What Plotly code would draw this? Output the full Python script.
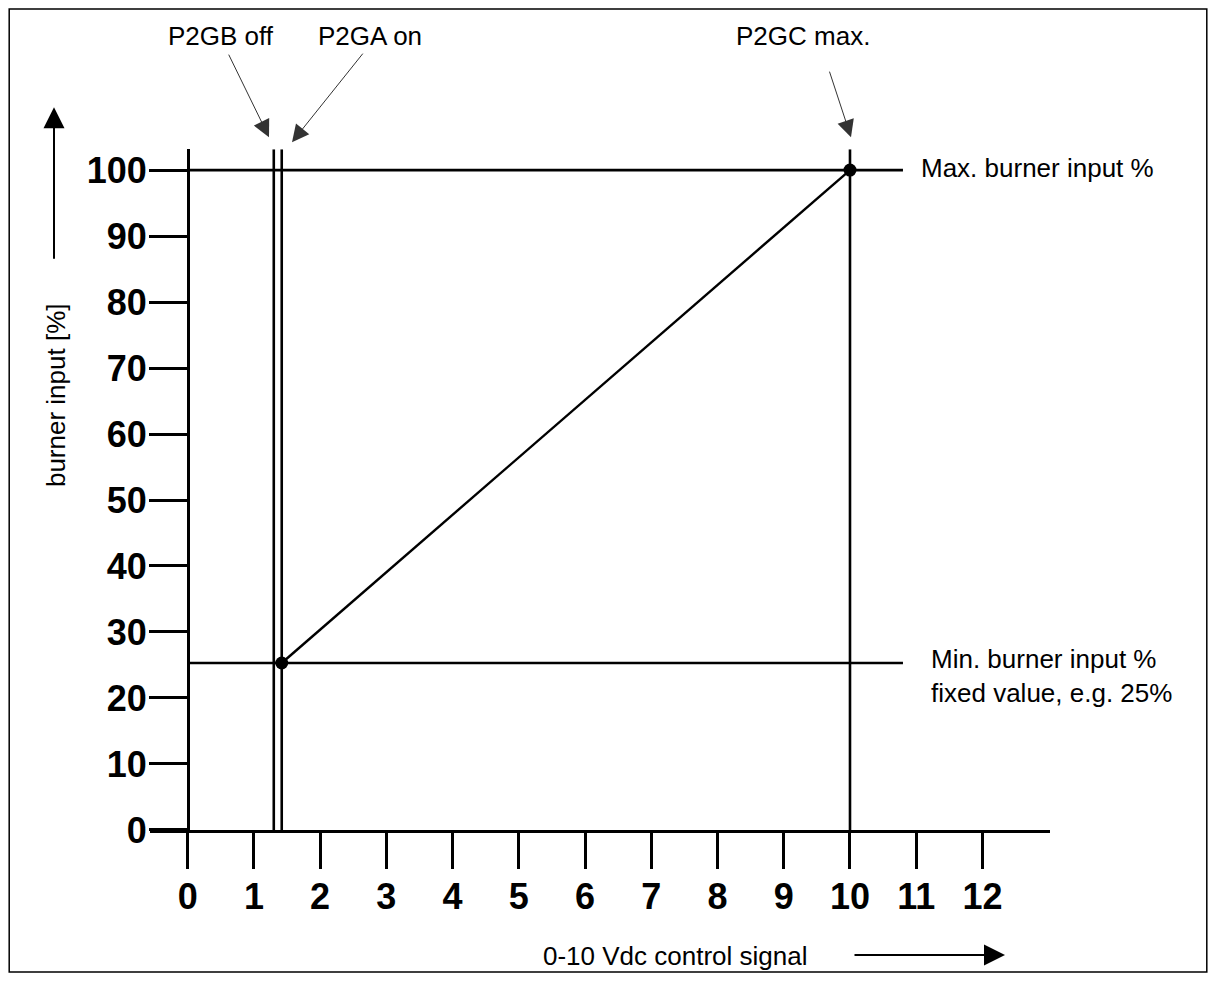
import plotly.graph_objects as go

# switching points on the control signal [V]
P2GB_OFF = 1.30
P2GA_ON = 1.42
P2GC_MAX = 10.0

# burner input levels [%]
MIN_INPUT = 25.3
MAX_INPUT = 100.0
REF_LINE_END = 10.8   # horizontal reference lines stop here

x_ticks = list(range(0, 13))
y_ticks = list(range(0, 101, 10))

curve_x = [P2GA_ON, P2GC_MAX]
curve_y = [MIN_INPUT, MAX_INPUT]

X_RANGE = [-0.569, 13.02]
Y_RANGE = [0, 103.18]

W, H = 1200, 986
OFF = 8      # default body margin of the page
K = 0.979    # vertical scale seen in the captured page


def px(sx):
    return (sx - OFF) / W


def py(sy):
    return 1 - (sy / K - OFF) / H


LINE = dict(color='black', width=2.6)
FONT = 'Liberation Sans, Arial, sans-serif'

fig = go.Figure()

for xv in [P2GB_OFF, P2GA_ON, P2GC_MAX]:
    fig.add_trace(go.Scatter(x=[xv, xv], y=Y_RANGE, mode='lines', line=LINE,
                             hoverinfo='skip'))

for yv in [MAX_INPUT, MIN_INPUT]:
    fig.add_trace(go.Scatter(x=[0, REF_LINE_END], y=[yv, yv], mode='lines', line=LINE,
                             hoverinfo='skip'))

fig.add_trace(go.Scatter(x=curve_x, y=curve_y, mode='lines+markers',
                         line=dict(color='black', width=2.4),
                         marker=dict(color='black', size=13),
                         cliponaxis=False))

annotations = [
    # labels
    dict(text='P2GB off', x=px(221), y=py(36)),
    dict(text='P2GA on', x=px(370), y=py(36)),
    dict(text='P2GC max.', x=px(803), y=py(36)),
    dict(text='Max. burner input %', x=px(919), y=py(168), xanchor='left'),
    dict(text='Min. burner input %<br>fixed value, e.g. 25%', x=px(929), y=py(676),
         xanchor='left', align='left'),
    dict(text='burner input [%]', x=px(56), y=py(395), textangle=-90),
    dict(text='0-10 Vdc control signal', x=px(541), y=py(956), xanchor='left'),
    # arrows
    dict(text='', x=px(269), y=py(137), ax=-41, ay=-84, showarrow=True,
         arrowhead=2, arrowsize=3.4, arrowwidth=1, arrowcolor='#333'),
    dict(text='', x=px(292), y=py(142), ax=72, ay=-90, showarrow=True,
         arrowhead=2, arrowsize=3.4, arrowwidth=1, arrowcolor='#333'),
    dict(text='', x=px(851), y=py(137), ax=-22, ay=-67, showarrow=True,
         arrowhead=2, arrowsize=3.4, arrowwidth=1, arrowcolor='#333'),
    dict(text='', x=px(54), y=py(107), ax=0, ay=153, showarrow=True,
         arrowhead=2, arrowsize=2.1, arrowwidth=2, arrowcolor='black'),
    dict(text='', x=px(1005), y=py(955), ax=-152, ay=0, showarrow=True,
         arrowhead=2, arrowsize=2.1, arrowwidth=2, arrowcolor='black'),
]
for a in annotations:
    a.setdefault('showarrow', False)
    a.setdefault('xanchor', 'center')
    a.setdefault('yanchor', 'middle')
    a.update(xref='paper', yref='paper', font=dict(family=FONT, size=26, color='black'))
    fig.add_annotation(**a)

fig.add_shape(type='rect', xref='paper', yref='paper', x0=0.001, x1=0.999, y0=0.001, y1=0.999,
              line=dict(color='black', width=1.5))

tickfont = dict(family=FONT, size=36, color='black', weight='bold')

fig.update_layout(
    width=W, height=H, autosize=False,
    margin=dict(l=0, r=0, t=0, b=0),
    paper_bgcolor='white', plot_bgcolor='white',
    showlegend=False,
    xaxis=dict(domain=[px(150), px(1050)], range=X_RANGE, anchor='y',
               showline=True, linecolor='black', linewidth=3,
               ticks='outside', ticklen=36, tickwidth=2.5, tickcolor='black',
               tickvals=x_ticks, tickfont=tickfont, ticklabelstandoff=-3,
               showgrid=False, zeroline=False, fixedrange=True),
    yaxis=dict(domain=[py(830), py(149)], range=Y_RANGE, anchor='free', position=px(188),
               showline=True, linecolor='black', linewidth=3,
               ticks='outside', ticklen=38, tickwidth=2.5, tickcolor='black',
               tickvals=y_ticks, tickfont=tickfont, ticklabelstandoff=-5,
               showgrid=False, zeroline=False, fixedrange=True),
)

fig.write_html("out.html")
